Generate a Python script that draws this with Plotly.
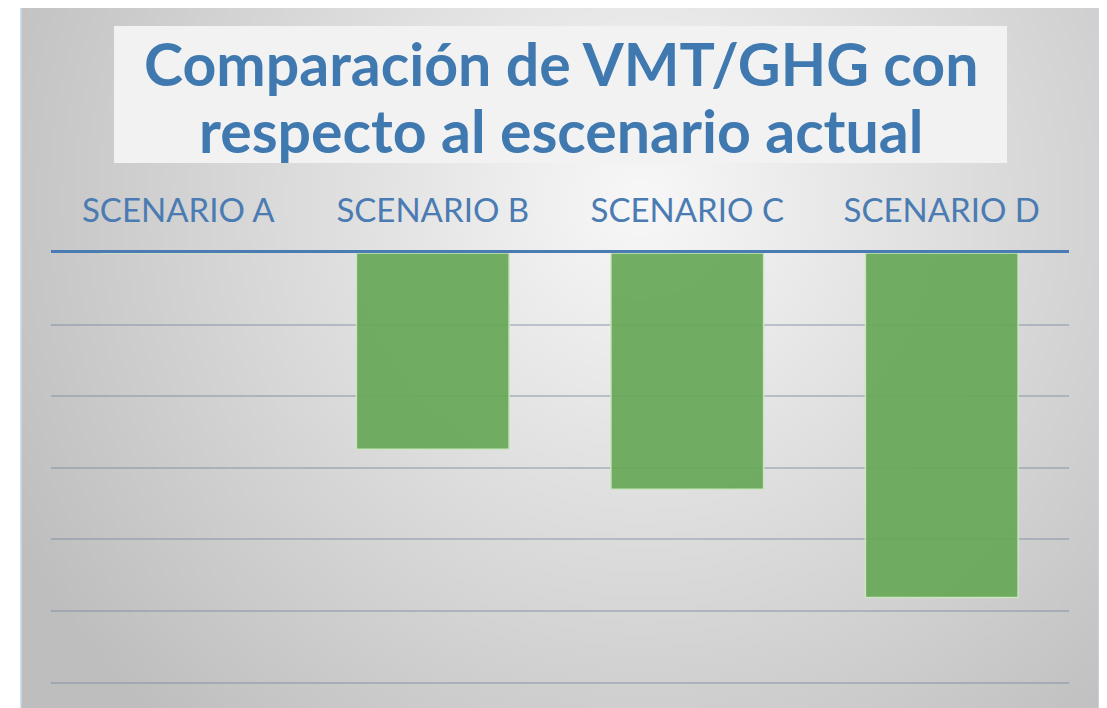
import base64
import struct
import zlib

import numpy as np
import plotly.graph_objects as go

# ---- data ----
categories = ["SCENARIO A", "SCENARIO B", "SCENARIO C", "SCENARIO D"]
values = [0.0, -2.74, -3.30, -4.81]
title_lines = ["Comparación de VMT/GHG con", "respecto al escenario actual"]

OFF = 8  # page body margin
W, H = 1107 - OFF, 708 - OFF
ML, MR, MT, MB = 51 - OFF, 38, 253 - OFF, 0
PW, PH = W - ML - MR, H - MT - MB
UNIT = 71.6  # px per unit
ymin = -PH / UNIT


def px_x(px):  # px in screenshot coordinates
    return (px - OFF - ML) / PW


def px_y(py):
    return (H - MB - (py - OFF)) / PH


# ---- radial gradient background image (PNG built with numpy + zlib) ----
def radial_png(w, h, cx, cy, r, c_in, c_out):
    yy, xx = np.mgrid[0:h, 0:w].astype(float)
    d = np.sqrt(((xx - cx) / r) ** 2 + ((yy - cy) / r) ** 2)
    t = np.clip(d, 0, 1)[..., None]
    img = (np.array(c_in) * (1 - t) + np.array(c_out) * t).astype(np.uint8)
    raw = b"".join(b"\x00" + img[i].tobytes() for i in range(h))

    def chunk(tag, data):
        c = tag + data
        return struct.pack(">I", len(data)) + c + struct.pack(">I", zlib.crc32(c) & 0xFFFFFFFF)

    png = b"\x89PNG\r\n\x1a\n" + chunk(b"IHDR", struct.pack(">IIBBBBB", w, h, 8, 2, 0, 0, 0))
    png += chunk(b"IDAT", zlib.compress(raw, 9)) + chunk(b"IEND", b"")
    return "data:image/png;base64," + base64.b64encode(png).decode()


bx0, by0, bx1, by1 = 21, 7, 1099, 708
sw, sh = 270, 176
scale = sw / (bx1 - bx0)
bg_src = radial_png(sw, sh, (640 - bx0) * scale, (200 - by0) * scale, 720 * scale,
                    (248, 248, 248), (190, 190, 190))

fig = go.Figure()
fig.add_trace(go.Bar(
    x=categories, y=values,
    marker=dict(color="rgba(104,168,88,0.94)", line=dict(color="rgba(205,232,195,0.95)", width=1.5)),
    hoverinfo="x+y",
))

title_y = [64, 130]

fig.update_layout(
    width=W, height=H,
    margin=dict(l=ML, r=MR, t=MT, b=MB),
    paper_bgcolor="white",
    plot_bgcolor="rgba(0,0,0,0)",
    showlegend=False,
    bargap=0.4,
    font=dict(family="Lato", color="#4a7bb2"),
    xaxis=dict(
        side="top", showline=True, linecolor="#4a7bb3", linewidth=3,
        showgrid=False, ticks="", ticklabelstandoff=15,
        tickfont=dict(size=33, color="#4a7bb2", family="Lato"),
        fixedrange=True,
    ),
    yaxis=dict(
        range=[ymin, 0], dtick=1, showticklabels=False, zeroline=False,
        gridcolor="rgba(120,135,160,0.42)", gridwidth=1.5, fixedrange=True,
    ),
    images=[dict(
        source=bg_src, xref="paper", yref="paper",
        x=px_x(bx0), y=px_y(by0), sizex=(bx1 - bx0) / PW, sizey=(by1 - by0) / PH,
        xanchor="left", yanchor="top", sizing="stretch", layer="below",
    )],
    shapes=[
        dict(type="rect", xref="paper", yref="paper",
             x0=px_x(bx0), x1=px_x(bx1), y0=px_y(by1 + 5), y1=px_y(by0),
             line=dict(color="#c3d7ea", width=1.5), fillcolor="rgba(0,0,0,0)", layer="below"),
        dict(type="rect", xref="paper", yref="paper",
             x0=px_x(114), x1=px_x(1007), y0=px_y(163), y1=px_y(26),
             line=dict(width=0), fillcolor="#f2f2f2", layer="below"),
    ],
    annotations=[dict(
        text="<b>" + line + "</b>",
        xref="paper", yref="paper", x=px_x(560.5), y=px_y(yy),
        xanchor="center", yanchor="middle", showarrow=False,
        font=dict(family="Lato", size=59, color="#3f79b0"),
    ) for line, yy in zip(title_lines, title_y)],
)

fig.write_html("out.html")
